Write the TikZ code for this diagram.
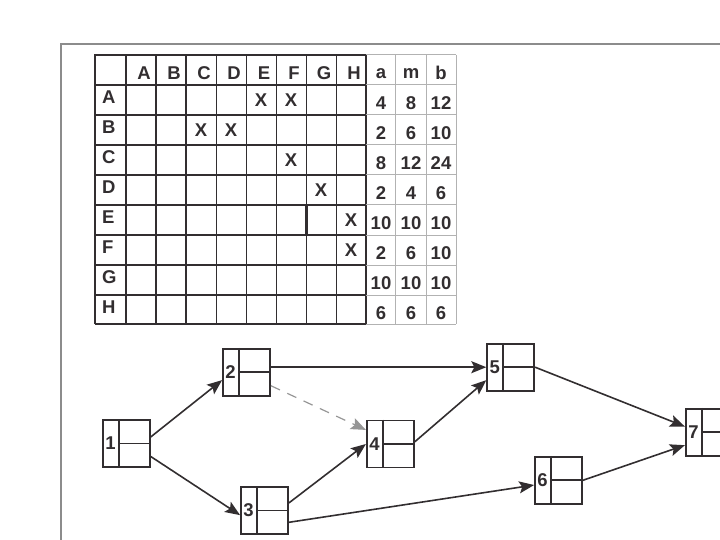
\documentclass[tikz,border=0pt]{standalone}
\usepackage{fontspec}
\setmainfont{Liberation Sans}
\usepackage{tikz}
\usetikzlibrary{arrows.meta, positioning}
\definecolor{inkdark}{RGB}{50, 46, 48}
\definecolor{framegray}{RGB}{140, 140, 140}
\definecolor{gridgray}{RGB}{178, 178, 178}
\definecolor{dashgray}{RGB}{150, 150, 150}

\begin{document}
\begin{tikzpicture}[x=1pt, y=-1pt, >={Stealth[length=15pt, width=12pt, inset=3pt]},
  font=\fontsize{18.5}{20}\selectfont\bfseries, text=inkdark,
  event/.style={draw=inkdark, line width=1.8pt, minimum width=47pt, minimum height=47pt, inner sep=0pt},
  act/.style={->, line width=1.6pt, draw=inkdark},
  dummy/.style={->, line width=1.2pt, draw=dashgray, dash pattern=on 10pt off 8pt},
  cell/.style={inner sep=0pt}]
  \clip (0,0) rectangle (720,540);

  \draw[framegray, line width=1.5pt] (720,44) -- (61,44) -- (61,540);

  % table grid
  \foreach \x in {95,126,156,186,216.5,246.5,276.5,306.5,336.5,366}
    \draw[inkdark, line width=1.8pt] (\x,55) -- (\x,324);
  \foreach \y in {55,85,...,295,324}
    \draw[inkdark, line width=1.8pt] (95,\y) -- (366,\y);
  \foreach \x in {395.5,426,456}
    \draw[gridgray, line width=1pt] (\x,55) -- (\x,324);
  \foreach \y in {55,85,...,295,324}
    \draw[gridgray, line width=1pt] (366,\y) -- (456,\y);
  \draw[inkdark, line width=2.6pt] (95,324) -- (95,55) -- (366,55);
  \draw[inkdark, line width=2.6pt] (306.5,235) -- (306.5,205) -- (336.5,205);

  \foreach \c [count=\i] in {A,B,C,D,E,F,G,H} {
    \node[cell] (h\c) at ({114+30*\i}, 73) {\c};
    \node[cell, anchor=west] (r\c) at (102, {67+30*\i}) {\c};
  }
  \node[cell] (ha) at (381,74) {a};
  \node[cell] (hm) at (411,74) {m};
  \node[cell] (hb) at (441,73) {b};

  \foreach \c/\r in {5/1,6/1,3/2,4/2,6/3,7/4,8/5,8/6}
    \node[cell] (x\c\r) at ({111+30*\c}, {70+30*\r}) {X};

  \foreach \a/\m/\b [count=\i] in {4/8/12, 2/6/10, 8/12/24, 2/4/6, 10/10/10, 2/6/10, 10/10/10, 6/6/6} {
    \node[cell] (a\i) at (381, {73+30*\i}) {\a};
    \node[cell] (m\i) at (411, {73+30*\i}) {\m};
    \node[cell] (b\i) at (441, {73+30*\i}) {\b};
  }

  % network
  \node[event, label={[anchor=center, xshift=8.5pt]west:1}] (n1) at (126.3,443.5) {};
  \node[event, label={[anchor=center, xshift=8.5pt]west:2}] (n2) at (246.5,372.2) {};
  \node[event, label={[anchor=center, xshift=8.5pt]west:3}] (n3) at (264.5,510.4) {};
  \node[event, label={[anchor=center, xshift=8.5pt]west:4}] (n4) at (390.3,444) {};
  \node[event, label={[anchor=center, xshift=8.5pt]west:5}] (n5) at (510.7,367.2) {};
  \node[event, label={[anchor=center, xshift=8.5pt]west:6}] (n6) at (558.5,480.3) {};
  \node[event, label={[anchor=center, xshift=8.5pt]west:7}] (n7) at (709.3,432.2) {};

  \foreach \n in {n1,n2,n3,n4,n5,n6,n7} {
    \draw[inkdark, line width=1.8pt] ([xshift=17pt]\n.north west) -- ([xshift=17pt]\n.south west);
    \draw[inkdark, line width=1.8pt] ([xshift=17pt]\n.west) -- (\n.east);
  }

  \draw[act] (n1.15) -- (n2.198);
  \draw[act] (n1.-28) -- (n3.191);
  \draw[act] (n2.east |- n5.west) -- (n5.west);
  \draw[dummy] (n2.-29) -- (n4.150);
  \draw[act] (n3.17) -- (n4.west);
  \draw[act] (n3.-26) -- (n6.191);
  \draw[act] (n4.5) -- (n5.208);
  \draw[act] (n5.east) -- (n7.167);
  \draw[act] (n6.east) -- (n7.208);
\end{tikzpicture}
\end{document}
